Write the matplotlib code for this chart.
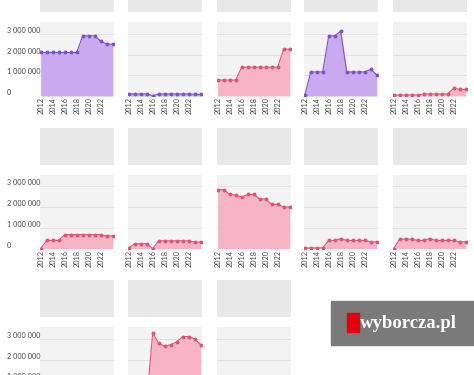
import matplotlib
matplotlib.use("Agg")
import matplotlib.pyplot as plt
from matplotlib.patches import Rectangle
from matplotlib.ticker import FuncFormatter

plt.rcParams['font.family'] = ['Lato', 'DejaVu Sans']

W, H = 474, 375

years = list(range(2012, 2025))
xticks = [2012, 2014, 2016, 2018, 2020, 2022]
yticks = [1e6, 2e6, 3e6]

# values in millions, one list per panel (row by row); None = empty panel
p_r1c1 = [2.1, 2.1, 2.1, 2.1, 2.1, 2.1, 2.1, 2.9, 2.9, 2.9, 2.65, 2.5, 2.5]
p_r1c2 = [0.1, 0.1, 0.1, 0.1, 0.02, 0.1, 0.1, 0.1, 0.1, 0.1, 0.1, 0.08, 0.08]
p_r1c3 = [0.77, 0.77, 0.77, 0.77, 1.39, 1.39, 1.39, 1.39, 1.39, 1.39, 1.39, 2.26, 2.26]
p_r1c4 = [0.03, 1.16, 1.16, 1.16, 2.9, 2.9, 3.13, 1.16, 1.16, 1.16, 1.16, 1.29, 1.03]
p_r1c5 = [0.05, 0.05, 0.05, 0.05, 0.05, 0.1, 0.1, 0.1, 0.1, 0.1, 0.37, 0.32, 0.32]
p_r2c1 = [0, 0.39, 0.39, 0.39, 0.67, 0.67, 0.67, 0.67, 0.67, 0.67, 0.67, 0.61, 0.61]
p_r2c2 = [0.03, 0.23, 0.23, 0.23, 0, 0.37, 0.37, 0.37, 0.37, 0.37, 0.37, 0.31, 0.31]
p_r2c3 = [2.84, 2.84, 2.61, 2.58, 2.48, 2.61, 2.61, 2.39, 2.39, 2.13, 2.13, 2.0, 2.0]
p_r2c4 = [0.03, 0.03, 0.03, 0.03, 0.39, 0.39, 0.48, 0.39, 0.39, 0.39, 0.39, 0.32, 0.32]
p_r2c5 = [0, 0.45, 0.45, 0.45, 0.39, 0.39, 0.48, 0.39, 0.39, 0.39, 0.39, 0.32, 0.32]
p_r3c1 = None
p_r3c2 = [0, 0, 0, 0, 3.29, 2.79, 2.64, 2.72, 2.85, 3.11, 3.11, 3.0, 2.72]
p_r3c3 = None

panels = [
    [p_r1c1, p_r1c2, p_r1c3, p_r1c4, p_r1c5],
    [p_r2c1, p_r2c2, p_r2c3, p_r2c4, p_r2c5],
    [p_r3c1, p_r3c2, p_r3c3],
]
purple = [(0, 0), (0, 1), (0, 3)]

PURPLE_LINE, PURPLE_FILL = "#7d52c8", "#c9aaee"
PINK_LINE, PINK_FILL = "#dd5479", "#f7b4c4"

col_left = [40, 128, 217, 304, 393]
row_top = [22, 174.5, 327]
pw, ph = 74, 74


def px_axes(fig, left, top, w, h):
    return fig.add_axes([left / W, 1 - (top + h) / H, w / W, h / H])


fmt = FuncFormatter(lambda v, p: f"{int(v):,}".replace(",", " "))

fig = plt.figure(figsize=(W / 100, H / 100), dpi=100)

for r, row in enumerate(panels):
    for c, vals in enumerate(row):
        # header strip
        hx = px_axes(fig, col_left[c], row_top[r] - 47, pw, 37)
        hx.set_facecolor("#e8e8e8")
        hx.set_xticks([])
        hx.set_yticks([])
        for s in hx.spines.values():
            s.set_visible(False)

        ax = px_axes(fig, col_left[c], row_top[r], pw, ph)
        ax.set_facecolor("#f3f3f3")
        for s in ax.spines.values():
            s.set_visible(False)
        ax.set_xlim(2011.88, 2024.22)
        ax.set_ylim(0, 3.57e6)
        ax.set_yticks(yticks + [0])
        ax.grid(axis="y", color="#e0e0e0", linewidth=0.7)
        ax.set_axisbelow(True)
        ax.set_xticks(xticks)
        ax.tick_params(axis="x", length=0, labelsize=5.2, colors="#444444", pad=1)
        ax.tick_params(axis="y", length=0, labelsize=5.2, colors="#444444", pad=24)
        if r < 2:
            ax.set_xticklabels([str(y) for y in xticks], rotation=90, va="top")
        else:
            ax.set_xticklabels([])
        if c == 0:
            ax.yaxis.set_major_formatter(fmt)
            for lab in ax.get_yticklabels():
                lab.set_va("bottom")
                lab.set_ha("left")
        else:
            ax.set_yticklabels([])

        if vals is None:
            continue
        ys = [v * 1e6 for v in vals]
        if (r, c) in purple:
            lc, fc = PURPLE_LINE, PURPLE_FILL
        else:
            lc, fc = PINK_LINE, PINK_FILL
        ax.fill_between(years, ys, 0, color=fc, linewidth=0)
        ax.plot(years, ys, color=lc, linewidth=0.8, marker="o", markersize=1.8)

# wyborcza.pl logo
fig.add_artist(Rectangle((331 / W, 1 - 345 / H), (W - 331) / W, 44 / H,
                         transform=fig.transFigure, color="#7a7a7a"))
fig.add_artist(Rectangle((347 / W, 1 - 332 / H), 12 / W, 19 / H,
                         transform=fig.transFigure, color="#e3000f"))
fig.text(359.5 / W, 1 - 323 / H, "wyborcza.pl", color="white", fontsize=13.5,
         fontweight="bold", family=["Liberation Serif", "DejaVu Serif"],
         va="center", ha="left")

fig.savefig("out.png", dpi=100)
